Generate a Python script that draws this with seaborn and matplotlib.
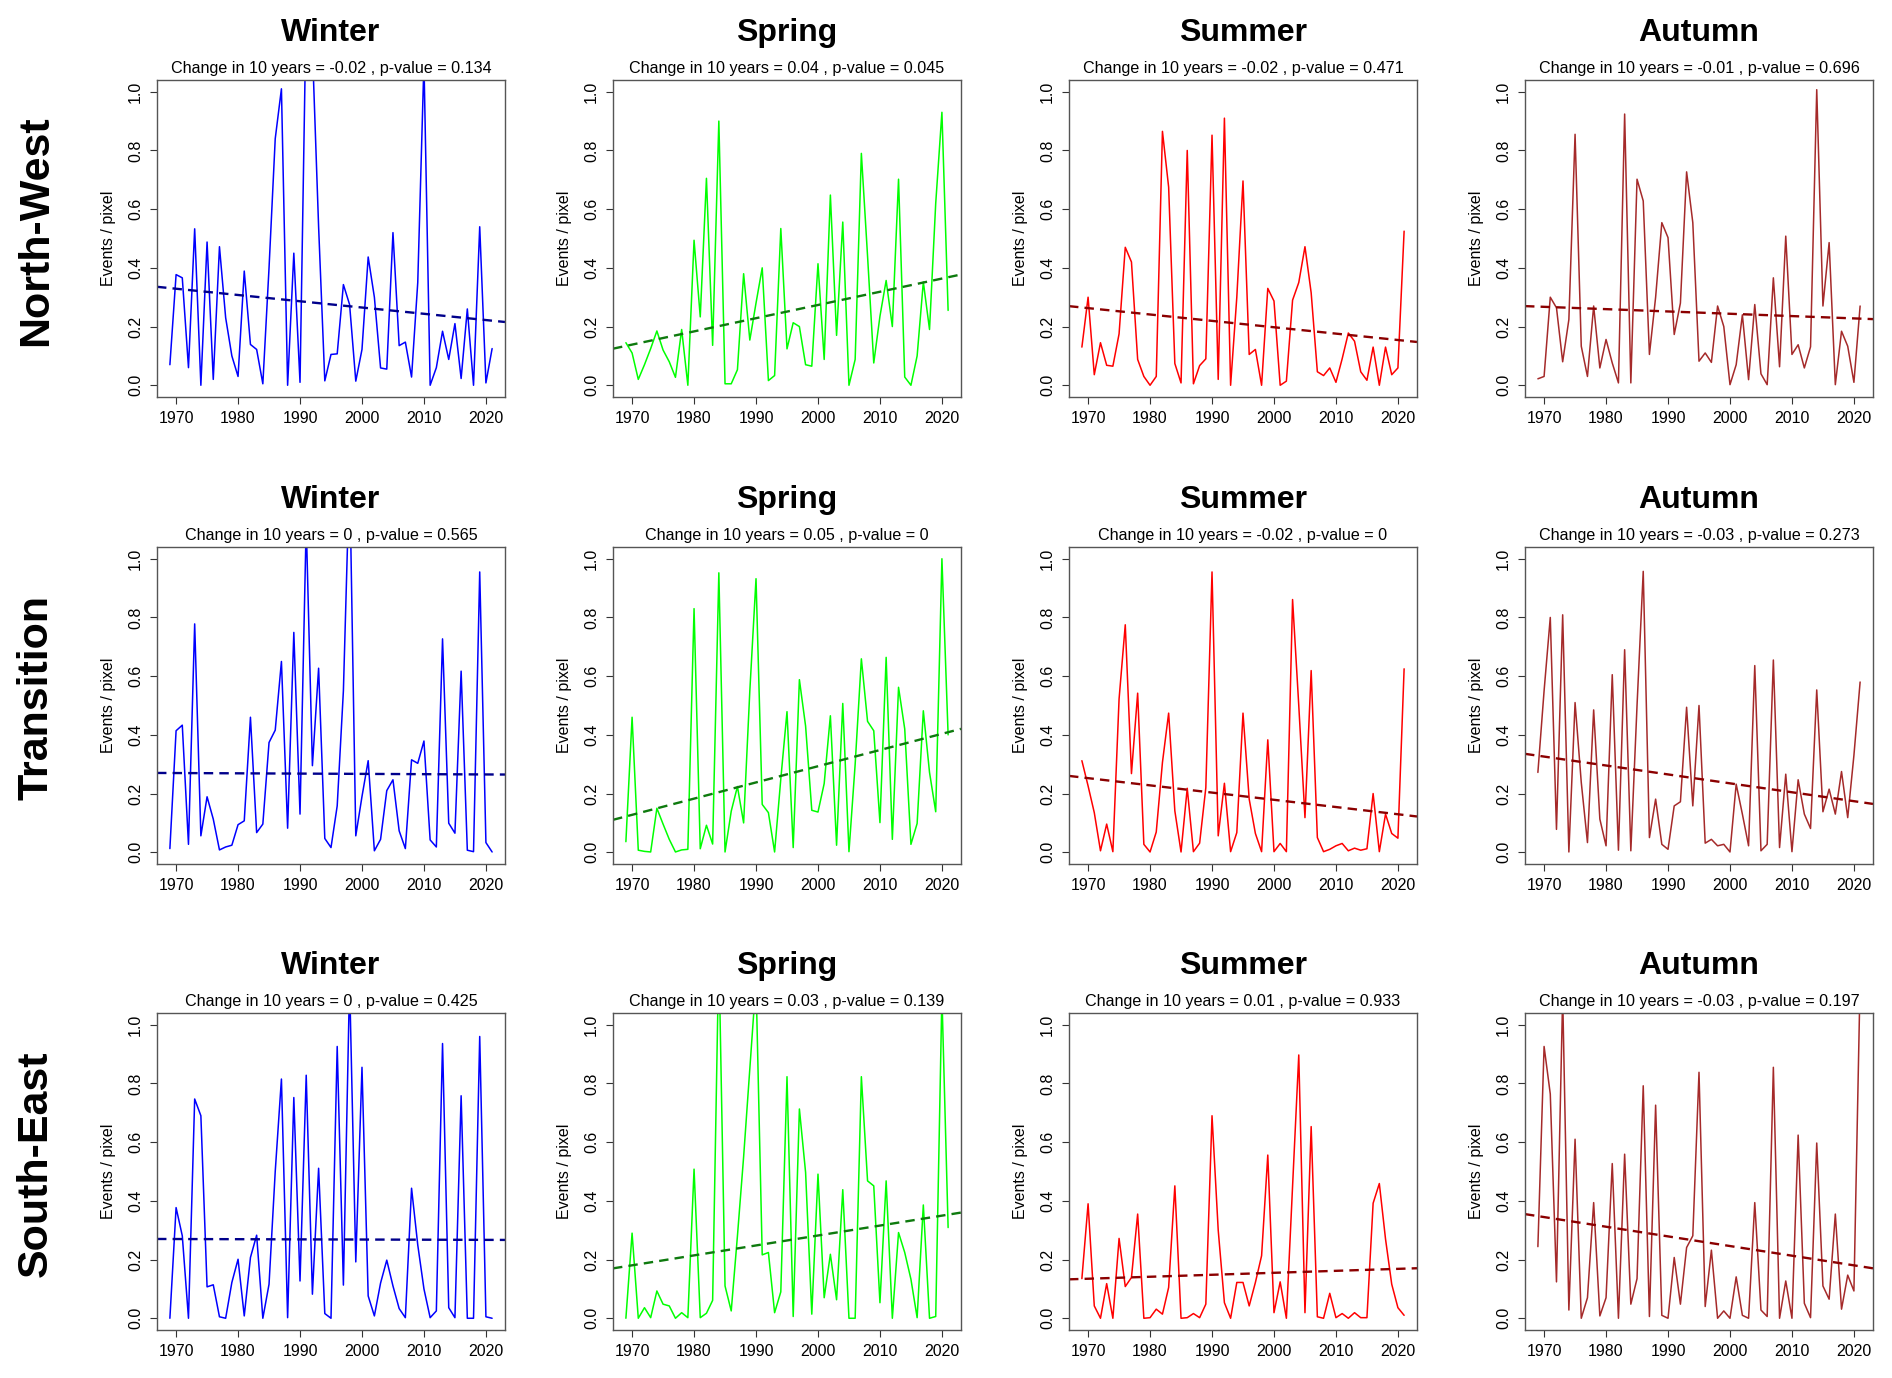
import numpy as np
import matplotlib
matplotlib.use("Agg")
import matplotlib.pyplot as plt
import seaborn as sns

years = list(range(1969, 2022))

regions = ["North-West", "Transition", "South-East"]
seasons = ["Winter", "Spring", "Summer", "Autumn"]

# events / pixel, 1969-2021
nw_winter = [0.07, 0.377, 0.366, 0.06, 0.533, 0.0, 0.488, 0.02, 0.472, 0.23,
             0.10, 0.03, 0.389, 0.139, 0.122, 0.005, 0.40, 0.84, 1.01, 0.0,
             0.45, 0.01, 1.30, 1.15, 0.54, 0.015, 0.105, 0.107, 0.343, 0.275,
             0.014, 0.122, 0.437, 0.30, 0.059, 0.055, 0.52, 0.135, 0.147, 0.028,
             0.35, 1.10, 0.0, 0.06, 0.184, 0.088, 0.21, 0.023, 0.26, 0.0,
             0.54, 0.008, 0.125]
nw_spring = [0.145, 0.11, 0.02, 0.07, 0.125, 0.185, 0.12, 0.08, 0.027, 0.19,
             0.0, 0.494, 0.233, 0.705, 0.136, 0.90, 0.005, 0.005, 0.053, 0.38,
             0.154, 0.28, 0.40, 0.016, 0.033, 0.534, 0.124, 0.213, 0.20, 0.07,
             0.065, 0.414, 0.088, 0.648, 0.17, 0.556, 0.0, 0.088, 0.79, 0.44,
             0.076, 0.235, 0.357, 0.20, 0.702, 0.028, 0.0, 0.10, 0.352, 0.19,
             0.62, 0.93, 0.255]
nw_summer = [0.13, 0.30, 0.036, 0.145, 0.068, 0.065, 0.175, 0.47, 0.42, 0.088,
             0.03, 0.0, 0.03, 0.865, 0.675, 0.074, 0.008, 0.80, 0.005, 0.067,
             0.09, 0.852, 0.02, 0.91, 0.0, 0.30, 0.696, 0.105, 0.122, 0.0,
             0.33, 0.287, 0.0, 0.014, 0.29, 0.35, 0.472, 0.315, 0.046, 0.033,
             0.059, 0.01, 0.09, 0.178, 0.15, 0.046, 0.017, 0.13, 0.0, 0.13,
             0.036, 0.059, 0.525]
nw_autumn = [0.022, 0.03, 0.30, 0.264, 0.08, 0.224, 0.855, 0.133, 0.03, 0.27,
             0.059, 0.156, 0.076, 0.008, 0.924, 0.008, 0.702, 0.628, 0.105, 0.30,
             0.554, 0.503, 0.173, 0.28, 0.727, 0.554, 0.082, 0.11, 0.078, 0.27,
             0.20, 0.002, 0.07, 0.24, 0.019, 0.275, 0.039, 0.002, 0.366, 0.063,
             0.508, 0.105, 0.138, 0.059, 0.131, 1.007, 0.27, 0.486, 0.002, 0.184,
             0.133, 0.01, 0.27]

tr_winter = [0.0125, 0.414, 0.433, 0.027, 0.778, 0.056, 0.189, 0.113, 0.008, 0.018,
             0.024, 0.094, 0.107, 0.46, 0.067, 0.096, 0.374, 0.416, 0.65, 0.082,
             0.749, 0.13, 1.12, 0.295, 0.627, 0.047, 0.016, 0.158, 0.55, 1.30,
             0.056, 0.19, 0.312, 0.005, 0.044, 0.21, 0.247, 0.073, 0.0125, 0.315,
             0.303, 0.379, 0.042, 0.018, 0.727, 0.099, 0.065, 0.617, 0.007, 0.002,
             0.955, 0.033, 0.001]
tr_spring = [0.036, 0.46, 0.007, 0.003, 0.001, 0.15, 0.096, 0.044, 0.001, 0.008,
             0.01, 0.83, 0.012, 0.092, 0.028, 0.952, 0.001, 0.14, 0.224, 0.10,
             0.55, 0.932, 0.163, 0.135, 0.001, 0.25, 0.479, 0.016, 0.588, 0.43,
             0.143, 0.137, 0.234, 0.465, 0.024, 0.507, 0.002, 0.30, 0.659, 0.446,
             0.414, 0.101, 0.664, 0.044, 0.562, 0.42, 0.027, 0.098, 0.482, 0.272,
             0.138, 1.0, 0.40]
tr_summer = [0.312, 0.226, 0.135, 0.005, 0.096, 0.002, 0.522, 0.775, 0.268, 0.542,
             0.027, 0.001, 0.069, 0.306, 0.474, 0.141, 0.001, 0.218, 0.002, 0.031,
             0.22, 0.955, 0.056, 0.235, 0.002, 0.067, 0.474, 0.181, 0.064, 0.002,
             0.383, 0.002, 0.03, 0.002, 0.861, 0.50, 0.118, 0.619, 0.05, 0.002,
             0.01, 0.022, 0.03, 0.005, 0.014, 0.007, 0.012, 0.20, 0.002, 0.13,
             0.064, 0.048, 0.625]
tr_autumn = [0.272, 0.55, 0.80, 0.078, 0.809, 0.001, 0.51, 0.238, 0.033, 0.485,
             0.113, 0.022, 0.605, 0.007, 0.69, 0.005, 0.50, 0.957, 0.05, 0.181,
             0.027, 0.01, 0.158, 0.172, 0.494, 0.158, 0.50, 0.031, 0.044, 0.022,
             0.027, 0.001, 0.232, 0.13, 0.022, 0.636, 0.005, 0.027, 0.655, 0.016,
             0.266, 0.002, 0.247, 0.13, 0.081, 0.553, 0.138, 0.215, 0.13, 0.275,
             0.118, 0.33, 0.58]

se_winter = [0.0, 0.377, 0.281, 0.0, 0.747, 0.69, 0.107, 0.114, 0.005, 0.0,
             0.122, 0.201, 0.008, 0.207, 0.283, 0.0, 0.116, 0.50, 0.815, 0.002,
             0.752, 0.127, 0.828, 0.082, 0.511, 0.016, 0.0, 0.926, 0.113, 1.15,
             0.192, 0.855, 0.076, 0.008, 0.12, 0.198, 0.11, 0.033, 0.002, 0.443,
             0.25, 0.10, 0.002, 0.025, 0.936, 0.036, 0.002, 0.758, 0.0, 0.0,
             0.96, 0.005, 0.0]
se_spring = [0.0, 0.29, 0.0, 0.036, 0.002, 0.093, 0.048, 0.042, 0.0, 0.019,
             0.002, 0.508, 0.002, 0.017, 0.061, 1.25, 0.11, 0.025, 0.28, 0.55,
             0.85, 1.15, 0.216, 0.224, 0.019, 0.09, 0.823, 0.006, 0.713, 0.497,
             0.014, 0.491, 0.07, 0.218, 0.063, 0.438, 0.0, 0.0, 0.823, 0.468,
             0.451, 0.053, 0.468, 0.0, 0.292, 0.224, 0.133, 0.002, 0.386, 0.0,
             0.006, 1.1, 0.309]
se_summer = [0.135, 0.39, 0.042, 0.0, 0.118, 0.0, 0.272, 0.108, 0.139, 0.355,
             0.0, 0.002, 0.031, 0.014, 0.105, 0.451, 0.0, 0.002, 0.016, 0.002,
             0.048, 0.69, 0.30, 0.053, 0.0, 0.122, 0.122, 0.042, 0.122, 0.213,
             0.556, 0.019, 0.124, 0.0, 0.45, 0.897, 0.019, 0.653, 0.005, 0.0,
             0.085, 0.002, 0.016, 0.0, 0.019, 0.002, 0.002, 0.392, 0.459, 0.27,
             0.116, 0.036, 0.01]
se_autumn = [0.244, 0.926, 0.764, 0.124, 1.1, 0.028, 0.61, 0.0, 0.07, 0.394,
             0.008, 0.07, 0.527, 0.0, 0.559, 0.048, 0.135, 0.792, 0.006, 0.726,
             0.01, 0.0, 0.207, 0.048, 0.241, 0.281, 0.838, 0.04, 0.232, 0.0,
             0.025, 0.0, 0.141, 0.01, 0.0, 0.394, 0.028, 0.006, 0.855, 0.0,
             0.127, 0.0, 0.624, 0.051, 0.002, 0.597, 0.11, 0.065, 0.355, 0.031,
             0.147, 0.093, 1.15]

# trend line value at 1969 and at 2021 (Winter, Spring, Summer, Autumn)
nw_trend = [(0.331, 0.220), (0.134, 0.368), (0.265, 0.152), (0.268, 0.227)]
tr_trend = [(0.270, 0.265), (0.122, 0.409), (0.255, 0.127), (0.329, 0.171)]
se_trend = [(0.270, 0.267), (0.177, 0.353), (0.134, 0.169), (0.348, 0.177)]

nw_change = ["-0.02", "0.04", "-0.02", "-0.01"]
nw_pvalue = ["0.134", "0.045", "0.471", "0.696"]
tr_change = ["0", "0.05", "-0.02", "-0.03"]
tr_pvalue = ["0.565", "0", "0", "0.273"]
se_change = ["0", "0.03", "0.01", "-0.03"]
se_pvalue = ["0.425", "0.139", "0.933", "0.197"]

line_colors = ["#0000FF", "#00FF00", "#FF0000", "#A52A2A"]
trend_colors = ["#00008B", "#0E7A0E", "#8B0000", "#8B0000"]

series = [[nw_winter, nw_spring, nw_summer, nw_autumn],
          [tr_winter, tr_spring, tr_summer, tr_autumn],
          [se_winter, se_spring, se_summer, se_autumn]]
trends = [nw_trend, tr_trend, se_trend]
changes = [nw_change, tr_change, se_change]
pvalues = [nw_pvalue, tr_pvalue, se_pvalue]

sns.set_theme(style="ticks")
plt.rcParams["font.family"] = ["Liberation Sans", "DejaVu Sans"]
plt.rcParams["text.color"] = "black"
plt.rcParams["axes.labelcolor"] = "black"
plt.rcParams["xtick.color"] = "black"
plt.rcParams["ytick.color"] = "black"

W, H = 1892, 1378
fig = plt.figure(figsize=(W / 100, H / 100), dpi=100)
fig.patch.set_facecolor("white")

col_left = [157, 613, 1069, 1525]
row_top = [80, 547, 1013]
pw, ph = 348, 317

for r in range(3):
    for c in range(4):
        ax = fig.add_axes([col_left[c] / W, 1 - (row_top[r] + ph) / H, pw / W, ph / H])
        sns.lineplot(x=years, y=series[r][c], ax=ax, color=line_colors[c], linewidth=1.1)
        a, b = trends[r][c]
        ax.axline((1969, a), (2021, b), color=trend_colors[c], linewidth=1.7,
                  linestyle=(0, (4, 2.6)))
        ax.set_xlim(1966.92, 2023.08)
        ax.set_ylim(-0.04, 1.04)
        ax.set_xticks([1970, 1980, 1990, 2000, 2010, 2020])
        ax.set_yticks([0.0, 0.2, 0.4, 0.6, 0.8, 1.0])
        ax.set_yticklabels(["0.0", "0.2", "0.4", "0.6", "0.8", "1.0"])
        ax.tick_params(axis="both", labelsize=11.5, length=5, width=0.8,
                       color="#333333", labelcolor="black", pad=5, direction="out")
        ax.tick_params(axis="y", labelrotation=90)
        for lab in ax.get_yticklabels():
            lab.set_va("center")
        ax.set_xlabel("")
        ax.set_ylabel("Events / pixel", fontsize=11.5, labelpad=9, color="black")
        for sp in ax.spines.values():
            sp.set_visible(True)
            sp.set_color("#555555")
            sp.set_linewidth(1.0)
        ax.grid(False)
        ax.annotate(seasons[c], xy=(0.5, 1), xycoords="axes fraction",
                    xytext=(0, 34), textcoords="offset points", color="black",
                    ha="center", va="center", fontsize=23, fontweight="bold")
        ax.annotate(f"Change in 10 years = {changes[r][c]} , p-value = {pvalues[r][c]}",
                    xy=(0.5, 1), xycoords="axes fraction", color="black",
                    xytext=(0, 8.5), textcoords="offset points",
                    ha="center", va="center", fontsize=11.6)
    fig.text(36 / W, 1 - (row_top[r] + ph / 2 - 8) / H, regions[r], rotation=90,
             ha="center", va="center", fontsize=31, fontweight="bold", color="black")

fig.savefig("out.png", dpi=100)
